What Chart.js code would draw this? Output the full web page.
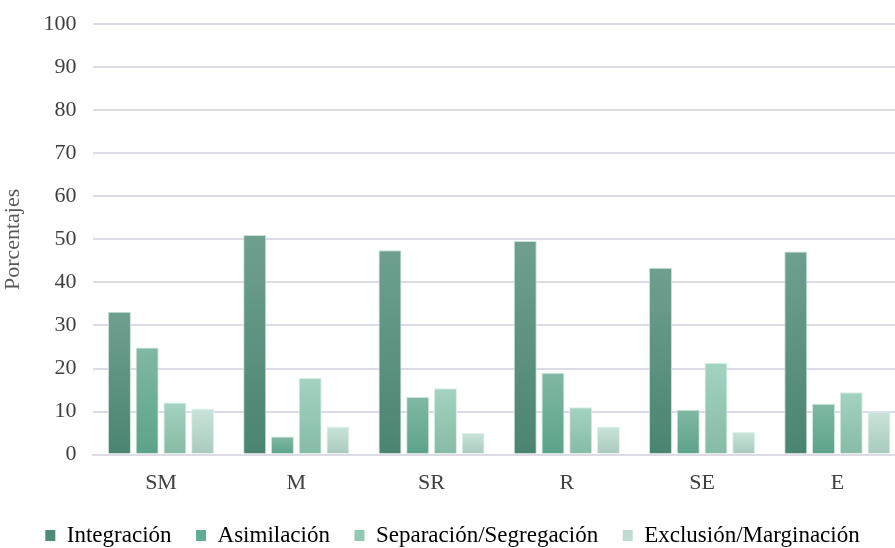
<!DOCTYPE html>
<html>
<head>
<meta charset="utf-8">
<script src="https://cdn.jsdelivr.net/npm/chart.js@4"></script>
<style>
  html, body { margin: 0; padding: 0; background: #fff; overflow: hidden; }
  #wrap { width: 912px; height: 554px; margin-top: -6px; position: relative; }
</style>
</head>
<body>
<div id="wrap"><canvas id="barChart"></canvas></div>
<script>
const categories = ["SM", "M", "SR", "R", "SE", "E"];
const seriesNames = ["Integración", "Asimilación", "Separación/Segregación", "Exclusión/Marginación"];
const integracion = [33.2, 51.0, 47.5, 49.6, 43.4, 47.2];
const asimilacion = [24.9, 4.2, 13.4, 19.0, 10.4, 11.8];
const separacion = [12.1, 17.8, 15.4, 11.0, 21.3, 14.5];
const exclusion = [10.7, 6.5, 5.1, 6.5, 5.3, 10.0];
const yTicks = [0, 10, 20, 30, 40, 50, 60, 70, 80, 90, 100];

// top / bottom colours of each bar gradient, plus the legend swatch
const palette = [
  { top: "#6fa08f", bottom: "#4a8470", solid: "#4f8a75", border: "#c9e0d6" },
  { top: "#80b8a3", bottom: "#5ca389", solid: "#62ad92", border: "#cde6dc" },
  { top: "#a4d3c1", bottom: "#86bba5", solid: "#92c9b3", border: "#d6eee4" },
  { top: "#c9e4da", bottom: "#a8cabc", solid: "#bfdcd0", border: "#e2f1eb" }
];

function barFill(i) {
  return (context) => {
    const chart = context.chart;
    if (context.type !== "data" || !chart.chartArea) return palette[i].solid;
    const y = chart.scales.y;
    const top = y.getPixelForValue(context.raw);
    const bottom = y.getPixelForValue(0);
    if (!isFinite(top) || bottom - top < 1) return palette[i].solid;
    const g = chart.ctx.createLinearGradient(0, top, 0, bottom);
    g.addColorStop(0, palette[i].top);
    g.addColorStop(1, palette[i].bottom);
    return g;
  };
}

const seriesData = [integracion, asimilacion, separacion, exclusion];

const chart = new Chart(document.getElementById("barChart").getContext("2d"), {
  type: "bar",
  data: {
    labels: categories,
    datasets: seriesData.map((d, i) => ({
      label: seriesNames[i],
      data: d,
      backgroundColor: barFill(i),
      borderColor: palette[i].border,
      borderWidth: 1,
      categoryPercentage: 0.82,
      barPercentage: 0.83
    }))
  },
  options: {
    responsive: true,
    maintainAspectRatio: false,
    animation: false,
    layout: { padding: { top: 0, right: 7, left: 0, bottom: -9 } },
    scales: {
      x: {
        grid: { display: false, drawTicks: false },
        border: { display: true, color: "#dddce6", width: 2 },
        ticks: {
          color: "#404040",
          padding: 15,
          font: { family: "'Liberation Serif', serif", size: 22 }
        }
      },
      y: {
        min: 0,
        max: 100,
        afterBuildTicks: (axis) => { axis.ticks = yTicks.map(v => ({ value: v })); },
        grid: { color: "#dddce6", lineWidth: 2, drawTicks: false },
        border: { display: false },
        ticks: {
          color: "#404040",
          padding: 17,
          font: { family: "'Liberation Serif', serif", size: 22 }
        },
        title: {
          display: true,
          text: "Porcentajes",
          color: "#595959",
          padding: { top: 0, bottom: 0 },
          font: { family: "'Liberation Serif', serif", size: 22 }
        }
      }
    },
    plugins: {
      tooltip: { enabled: false },
      legend: {
        position: "bottom",
        labels: {
          color: "#404040",
          boxWidth: 10,
          boxHeight: 11,
          padding: 13,
          font: { family: "'Liberation Serif', serif", size: 23 },
          // en space after the first three names widens the gap between items
          generateLabels: (c) => c.data.datasets.map((ds, i) => ({
            text: i < 3 ? ds.label + "\u2002" : ds.label,
            fillStyle: palette[i].solid,
            strokeStyle: palette[i].solid,
            lineWidth: 0,
            hidden: false,
            datasetIndex: i
          }))
        }
      }
    }
  }
});
</script>
</body>
</html>
